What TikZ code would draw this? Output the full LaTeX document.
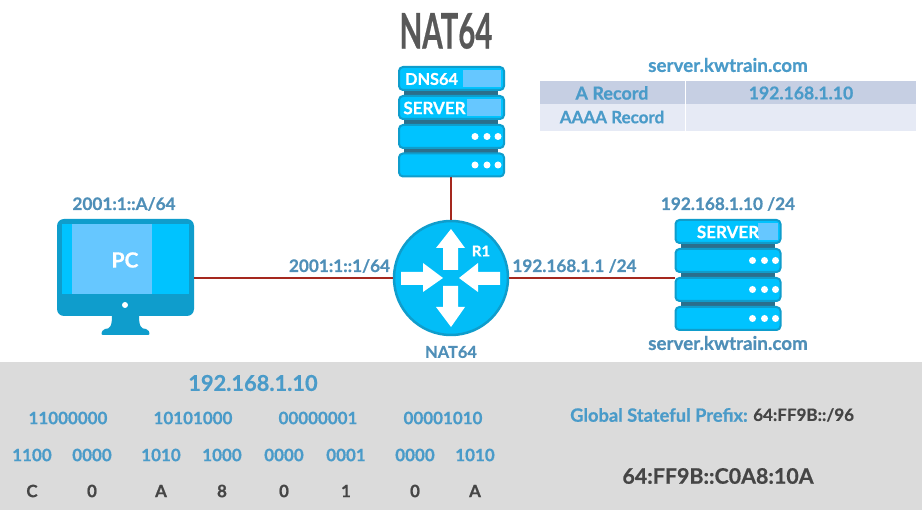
\documentclass[tikz,border=0pt]{standalone}
\usepackage{fontspec}
\setmainfont{Lato}[BoldFeatures={FakeBold=0.6}]
\usetikzlibrary{positioning}
\definecolor{devfill}{HTML}{00C3FF}
\definecolor{devedge}{HTML}{0F9DCC}
\definecolor{devband}{HTML}{66C7FF}
\definecolor{devgap}{HTML}{2B6F8C}
\definecolor{linkred}{HTML}{A5281E}
\definecolor{labelblue}{HTML}{4F8FB8}
\definecolor{bitblue}{HTML}{4A9BC9}
\definecolor{darktext}{HTML}{454545}
\definecolor{rowa}{HTML}{C6CFE3}
\definecolor{rowb}{HTML}{E6EAF5}
\newcommand{\lblsize}[1]{\bfseries\fontsize{#1}{#1}\selectfont}
\tikzset{
  srvunit/.style={draw=devedge,fill=devfill,line width=2pt,rounded corners=4pt,
    minimum width=105pt,minimum height=23pt,inner sep=0pt},
  srvtext/.style={text=white,font=\lblsize{17},inner sep=0pt},
  srvdot/.style={circle,fill=white,minimum size=7pt,inner sep=0pt},
  link/.style={draw=linkred,line width=1.6pt},
  netlabel/.style={text=labelblue,font=\lblsize{17.2},inner sep=0pt},
  namelabel/.style={text=labelblue,font=\lblsize{18.8},inner sep=0pt},
  bits/.style={text=bitblue,font=\lblsize{17},inner sep=0pt},
  hexdigit/.style={text=darktext,font=\lblsize{17},inner sep=0pt},
  rtarrow/.style={fill=white,draw=none},
}
\begin{document}
\begin{tikzpicture}[x=1pt,y=-1pt]
  \useasboundingbox (0,0) rectangle (922,510);
  \fill[black!0] (0,0) rectangle (922,510);
  \fill[black!14] (0,362) rectangle (922,510);

  \node[text=darktext!90,font=\lblsize{49},xscale=0.6,inner sep=0pt] (title) at (446,31) {NAT64};

  % dns server
  \fill[devgap] (404,88) rectangle (498,156);
  \foreach \n/\y in {a/78.5,b/107.5,c/136.5,d/165} {
    \node[srvunit] (dns\n) at (451.5,\y) {};
  }
  \fill[devband] (463,70) rectangle (501,87);
  \fill[devband] (467,99) rectangle (501,116);
  \node[srvtext,font=\lblsize{16.3}] at (431.5,79) {DNS64};
  \node[srvtext] at (434.5,108) {SERVER};
  \foreach \n in {c,d} \foreach \x in {-30,-18,-7} {
    \node[srvdot] at ([xshift=\x pt]dns\n.east) {};
  }

  % server on the right
  \fill[devgap] (681,240) rectangle (775,310);
  \foreach \n/\y in {a/231.5,b/260.5,c/289.5,d/318.5} {
    \node[srvunit] (srv\n) at (728,\y) {};
  }
  \fill[devband] (758,223) rectangle (778,240);
  \node[srvtext] at (728,232) {SERVER};
  \foreach \n in {b,c,d} \foreach \x in {-29,-17,-6} {
    \node[srvdot] at ([xshift=\x pt]srv\n.east) {};
  }

  % monitor
  \fill[devedge,rounded corners=2pt] (112,314) .. controls (112,326) and (110,329) .. (103,329)
    -- (101,335) -- (150,335) -- (148,329) .. controls (141,329) and (139,326) .. (139,314) -- cycle;
  \node[fill=devedge,rounded corners=7pt,minimum width=137pt,minimum height=97pt,inner sep=0pt] (pc) at (125.5,267.5) {};
  \fill[devfill] (62,224) rectangle (189,294);
  \fill[devband] (72,224) rectangle (152,294);
  \node[srvtext,font=\lblsize{21}] at (125,260) {PC};
  \fill[white] (125,305) circle (3pt);

  % router
  \node[circle,draw=devedge,fill=devfill!85!devedge,line width=2.5pt,minimum size=114pt,inner sep=0pt] (r1) at (451,278) {};
  \fill[rtarrow] (451,229) -- (465,248) -- (458,248) -- (458,270) -- (443,270) -- (443,248) -- (436,248) -- cycle;
  \fill[rtarrow] (451,327) -- (465,307) -- (458,307) -- (458,286) -- (443,286) -- (443,307) -- (436,307) -- cycle;
  \fill[rtarrow] (443,278) -- (423,263) -- (423,272) -- (401,272) -- (401,285) -- (423,285) -- (423,292) -- cycle;
  \fill[rtarrow] (459,278) -- (478,263) -- (478,272) -- (500,272) -- (500,285) -- (478,285) -- (478,292) -- cycle;
  \node[srvtext,font=\lblsize{15}] at (481,251) {R1};

  % links
  \draw[link] (pc.east |- r1) -- (r1.west);
  \draw[link] (r1.east) -- (r1.east -| srvb.west);
  \draw[link] (dnsd.south -| r1) -- (r1.north);

  % labels
  \node[netlabel] (pcaddr) at (124,204) {2001:1::A/64};
  \node[netlabel] (r1left) at (339.5,266) {2001:1::1/64};
  \node[netlabel] (r1right) at (574.5,266) {192.168.1.1 /24};
  \node[netlabel] (srvaddr) at (728,204) {192.168.1.10 /24};
  \node[namelabel] (srvname) at (728,343) {server.kwtrain.com};
  \node[netlabel,font=\lblsize{16.4}] (r1name) at (451,352) {NAT64};

  % record table
  \node[namelabel,text=bitblue] (tabname) at (728,65) {server.kwtrain.com};
  \fill[rowa] (540,81) rectangle (685,104);
  \fill[rowa] (686,81) rectangle (916,104);
  \fill[rowb] (540,104.5) rectangle (685,131);
  \fill[rowb] (686,104.5) rectangle (916,131);
  \node[namelabel,font=\lblsize{18},text=bitblue] (arec) at (612,93) {A Record};
  \node[netlabel,font=\lblsize{17.6},text=bitblue] (aval) at (801,93) {192.168.1.10};
  \node[netlabel,font=\lblsize{17},text=bitblue] (aaaarec) at (612,117) {AAAA Record};

  % conversion
  \node[bits,font=\lblsize{21.8}] (ipv4) at (253,383) {192.168.1.10};
  \foreach \x/\b in {68/11000000,193/10101000,318/00000001,443/00001010} {
    \node[bits] at (\x,418) {\b};
  }
  \foreach \x/\b/\h in {32/1100/C,92/0000/0,161/1010/A,222/1000/8,284/0000/0,346/0001/1,415/0000/0,475/1010/A} {
    \node[bits] at (\x,455) {\b};
    \node[hexdigit] at (\x,491) {\h};
  }
  \node[bits,font=\lblsize{18.3},anchor=west] (prefix) at (570,415) {Global Stateful Prefix:};
  \node[hexdigit,anchor=west] (prefixval) at (753,415) {64:FF9B::/96};
  \node[hexdigit,font=\lblsize{21.4}] (mapped) at (718,476) {64:FF9B::C0A8:10A};
\end{tikzpicture}
\end{document}
